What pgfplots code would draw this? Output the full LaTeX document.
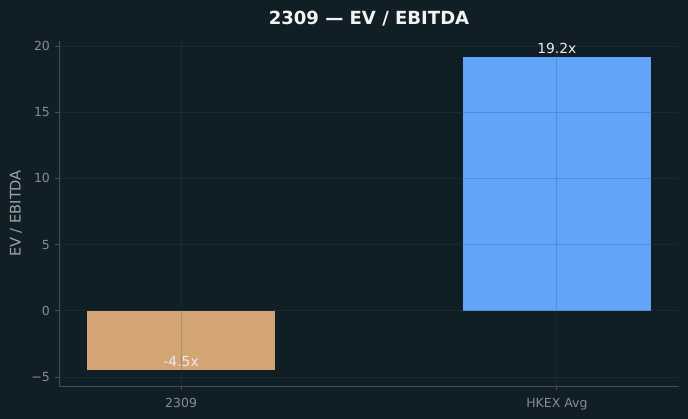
\documentclass[border=0pt]{standalone}
\usepackage{fontspec}
\setmainfont{DejaVu Sans}
\usepackage{pgfplots}
\pgfplotsset{compat=1.18}
\definecolor{bg}{RGB}{16,31,38}
\definecolor{tan}{RGB}{212,165,116}
\definecolor{blu}{RGB}{96,165,250}
\definecolor{gridc}{RGB}{55,70,85}
\definecolor{spine}{RGB}{70,78,82}
\definecolor{tickc}{RGB}{136,140,142}
\begin{document}
\begin{tikzpicture}
\fill[bg] (-42.48pt,-23.76pt) rectangle (452.88pt,277.92pt);
\begin{axis}[
  at={(0,0)}, anchor=south west,
  scale only axis, width=446.4pt, height=248.4pt,
  xmin=-0.325, xmax=1.325, ymin=-5.685, ymax=20.385,
  axis on top,
  axis x line*=bottom, axis y line*=left,
  axis line style={draw=spine, line width=0.6pt},
  xtick={0,1}, xticklabels={2309,HKEX Avg},
  ytick={-5,0,5,10,15,20}, yticklabels={−5,0,5,10,15,20},
  tick align=outside, major tick length=3pt,
  tick style={draw=spine, line width=0.6pt},
  ticklabel style={font=\fontsize{9}{10}\selectfont, text=tickc},
  xticklabel style={yshift=-2.5pt},
  xmajorgrids, ymajorgrids,
  grid style={draw=gridc, opacity=0.25, line width=0.6pt},
  ylabel={EV / EBITDA},
  ylabel style={at={(axis description cs:-0.0694,0.5)}, anchor=center, rotate=0, font=\fontsize{10.5}{12}\selectfont, text=tickc!80!white},
  title={\bfseries 2309 — EV / EBITDA},
  title style={at={(axis description cs:0.5,1)}, anchor=center, yshift=9.8pt, font=\fontsize{13}{15}\selectfont, text=white!95!black},
  point meta=explicit symbolic,
  nodes near coords={\pgfplotspointmeta},
  nodes near coords align={anchor=south},
  every node near coord/.append style={font=\fontsize{10}{12}\selectfont, text=white!92!black, anchor=south, inner sep=2.2pt},
]
\addplot[ybar, bar width=0.5, bar shift=0pt, fill=tan, draw=none] coordinates {(0,-4.5) [-4.5x]};
\addplot[ybar, bar width=0.5, bar shift=0pt, fill=blu, draw=none] coordinates {(1,19.2) [19.2x]};
\end{axis}
\pgfresetboundingbox
\path[use as bounding box] (-42.48pt,-23.76pt) rectangle (452.88pt,277.92pt);
\end{tikzpicture}
\end{document}
